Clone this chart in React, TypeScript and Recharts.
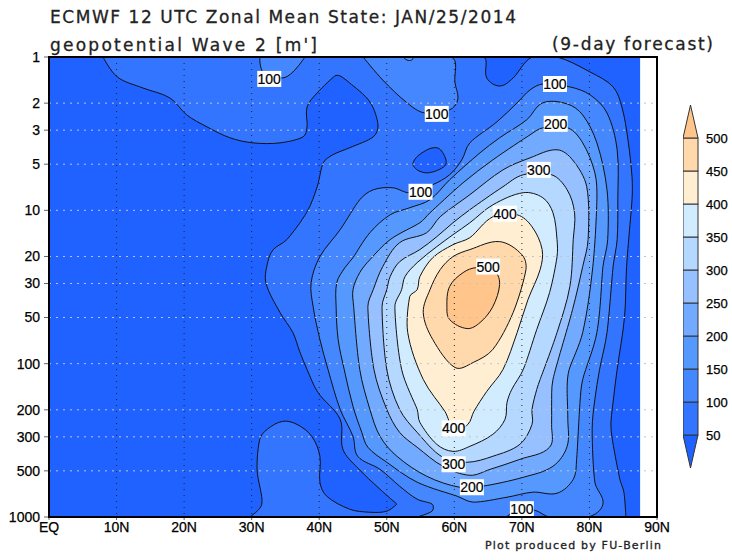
import { Bar, BarChart, CartesianGrid, ReferenceArea, Scatter, ScatterChart, XAxis, YAxis } from "recharts";

// contours are [latitude, log10(pressure in hPa)]
type Pt = [number, number];

const latTicks = [0, 10, 20, 30, 40, 50, 60, 70, 80, 90];
const pressureTicks = [1, 2, 3, 5, 10, 20, 30, 50, 100, 200, 300, 500, 1000];
const innerPressures = [2, 3, 5, 10, 20, 30, 50, 100, 200, 300, 500];

const background: Pt[] = [[0, 0], [87.5, 0], [87.5, 3], [0, 3]];

const contour50: Pt[] = [
  [8.0, 0], [10.1, 0.13], [13.9, 0.202], [17.9, 0.267], [20.4, 0.378], [23.4, 0.456], [26.8, 0.527], [30.2, 0.56],
  [34.2, 0.56], [37.6, 0.521], [38.2, 0.456], [38.2, 0.326], [39.7, 0.234], [42.3, 0.124], [43.1, 0.124], [44.5, 0.169],
  [47.5, 0.293], [48.7, 0.443], [48.0, 0.521], [44.5, 0.592], [42.0, 0.638], [40.6, 0.69], [39.7, 0.846], [38.2, 1.009],
  [35.2, 1.191], [33.2, 1.256], [32.4, 1.335], [32.1, 1.471], [34.2, 1.667], [36.1, 1.797], [37.1, 1.92], [38.2, 2.038],
  [39.8, 2.187], [43.1, 2.363], [43.5, 2.558], [45.6, 2.676], [49.0, 2.819], [51.5, 2.916], [50.0, 2.962], [47.5, 2.969],
  [44.5, 2.949], [41.1, 2.864], [40.1, 2.773], [40.1, 2.604], [38.9, 2.474], [36.7, 2.396], [34.6, 2.376], [32.3, 2.428],
  [31.2, 2.493], [30.8, 2.689], [31.5, 2.916], [29.7, 3], [85.4, 3], [85.1, 2.838], [84.5, 2.754], [83.2, 2.428],
  [83.5, 2.252], [84.1, 2.038], [85.2, 1.693], [85.5, 1.367], [86.3, 0.931], [86.3, 0.781], [85.7, 0.54], [84.8, 0.326],
  [83.5, 0.195], [80.1, 0.098], [75.2, 0], [71.5, 0], [68.7, 0.137], [66.7, 0.189], [64.8, 0.137], [64.2, 0],
];
const lowBlob: Pt[] = [[53.9, 0.69], [55.2, 0.625], [57.4, 0.592], [58.6, 0.65], [58.6, 0.71], [56.2, 0.755], [54.5, 0.736]];

const contour100: Pt[] = [
  [54.5, 3], [56.7, 2.962], [56.7, 2.916], [54.5, 2.884], [51.9, 2.799], [49.0, 2.689], [45.7, 2.604], [45.0, 2.474],
  [43.1, 2.298], [41.3, 2.038], [40.1, 1.842], [39.1, 1.628], [38.8, 1.471], [40.1, 1.302], [43.1, 1.126], [46.0, 0.931],
  [48.0, 0.866], [50.9, 0.853], [53.4, 0.885], [56.8, 0.833], [59.3, 0.768], [61.1, 0.671], [62.3, 0.56], [66.3, 0.423],
  [69.3, 0.299], [71.2, 0.215], [73.1, 0.176], [77.1, 0.195], [80.1, 0.247], [82.6, 0.365], [84.1, 0.605], [84.2, 0.931],
  [84.1, 1.191], [83.5, 1.367], [82.6, 1.797], [81.5, 2.038], [80.8, 2.233], [80.4, 2.428], [80.8, 2.773], [82.0, 2.916],
  [79.8, 3], [74.1, 3], [71.9, 2.956], [69.0, 2.956], [67.5, 3],
];
const topPatchA: Pt[] = [[31.2, 0], [31.7, 0.098], [34.5, 0.137], [36.1, 0.098], [37.9, 0]];
const topPatchB: Pt[] = [[46.5, 0], [49.4, 0.15], [53.0, 0.299], [55.6, 0.365], [59.3, 0.345], [60.5, 0.28], [60.1, 0.169], [59.5, 0]];
const topSliver: Pt[] = [[52.4, 0], [53, 0.02], [53.7, 0.02], [53.9, 0]];

const contour150: Pt[] = [
  [60.4, 2.864], [54.5, 2.773], [50.0, 2.643], [47.2, 2.545], [46.3, 2.448], [45.0, 2.279], [43.7, 2.038], [42.8, 1.842],
  [42.5, 1.628], [42.6, 1.471], [43.8, 1.374], [45.0, 1.309], [47.5, 1.146], [50.5, 1.029], [53.4, 0.983], [56.4, 0.931],
  [59.3, 0.801], [63.8, 0.625], [66.7, 0.527], [70.7, 0.41], [73.1, 0.299], [76.7, 0.306], [79.0, 0.378], [81.1, 0.56],
  [82.6, 0.866], [82.7, 1.191], [82.0, 1.367], [81.1, 1.797], [79.0, 2.103], [78.6, 2.252], [78.1, 2.624], [77.6, 2.754],
  [75.2, 2.845], [71.6, 2.838], [67.8, 2.871], [62.8, 2.903],
];
const contour200: Pt[] = [
  [60.8, 2.806], [55.9, 2.734], [51.5, 2.604], [49.0, 2.474], [47.5, 2.298], [46.0, 2.038], [45.1, 1.628], [45.0, 1.517],
  [46.0, 1.406], [47.5, 1.322], [50.5, 1.191], [54.9, 1.081], [56.4, 1.016], [61.3, 0.82], [65.7, 0.671], [71.2, 0.508],
  [73.1, 0.462], [76.8, 0.462], [79.0, 0.56], [80.8, 0.755], [81.1, 0.931], [80.5, 1.367], [79.0, 1.797], [77.0, 2.038],
  [76.7, 2.148], [76.8, 2.363], [76.7, 2.539], [74.6, 2.669], [70.2, 2.741], [64.2, 2.799],
];
const contour250: Pt[] = [
  [62.3, 2.728], [58.3, 2.669], [54.5, 2.545], [51.9, 2.448], [50.0, 2.298], [48.1, 2.038], [47.2, 1.628], [48.0, 1.517],
  [49.4, 1.367], [51.9, 1.211], [55.9, 1.146], [57.9, 1.042], [62.3, 0.898], [67.2, 0.736], [71.2, 0.658], [75.2, 0.605],
  [77.5, 0.671], [79.6, 0.846], [79.8, 1.191], [79.0, 1.367], [77.5, 1.647], [74.6, 2.103], [74.4, 2.279], [74.4, 2.396],
  [74.1, 2.545], [69.7, 2.624], [65.3, 2.689],
];
const contour300: Pt[] = [
  [58.3, 2.611], [54.5, 2.448], [51.9, 2.298], [50.0, 2.038], [49.3, 1.628], [50.0, 1.517], [50.5, 1.432], [51.9, 1.335],
  [54.9, 1.256], [57.4, 1.172], [59.8, 1.081], [62.3, 0.996], [67.2, 0.846], [70.2, 0.768], [74.4, 0.768], [76.7, 0.866],
  [77.8, 1.016], [77.6, 1.191], [77.1, 1.497], [75.2, 1.797], [72.7, 2.103], [72.2, 2.168], [71.5, 2.298], [71.5, 2.396],
  [69.7, 2.526], [65.7, 2.604], [61.9, 2.643],
];
const contour350: Pt[] = [
  [59.8, 2.572], [57.4, 2.526], [54.9, 2.383], [54.5, 2.298], [52.2, 2.038], [51.2, 1.628], [52.2, 1.517], [52.7, 1.432],
  [54.5, 1.341], [57.4, 1.237], [59.8, 1.159], [62.3, 1.081], [65.7, 0.964], [70.2, 0.885], [73.1, 0.918], [74.6, 1.016],
  [75.2, 1.191], [75.2, 1.302], [74.1, 1.536], [72.2, 1.777], [70.2, 2.038], [68.5, 2.168], [67.8, 2.252], [67.5, 2.363],
  [65.7, 2.461], [62.3, 2.539],
];
const contour400: Pt[] = [
  [60.1, 2.428], [58.6, 2.311], [55.4, 2.103], [53.1, 1.797], [53.4, 1.562], [54.5, 1.517], [54.9, 1.432], [56.8, 1.309],
  [59.8, 1.224], [62.3, 1.178], [65.7, 1.042], [69.3, 1.029], [71.5, 1.107], [73.0, 1.256], [72.7, 1.387], [70.9, 1.582],
  [69.3, 1.797], [67.2, 2.038], [64.8, 2.181], [62.9, 2.311], [62.0, 2.396],
];
const contour450: Pt[] = [
  [55.4, 1.667], [56.4, 1.517], [57.9, 1.387], [59.8, 1.302], [62.3, 1.256], [66.7, 1.204], [70.0, 1.289], [70.6, 1.387],
  [68.7, 1.667], [65.7, 1.907], [62.8, 1.992], [60.1, 2.025], [56.8, 1.842],
];
const contour500: Pt[] = [
  [58.9, 1.628], [59.3, 1.497], [61.3, 1.406], [63.3, 1.374], [66.0, 1.4], [66.7, 1.484], [65.7, 1.628], [63.8, 1.732],
  [61.9, 1.771], [59.3, 1.712],
];

const C = {
  lt50: "#1f62ff",
  c50: "#3375ff",
  c100: "#4587ff",
  c150: "#5599ff",
  c200: "#72aaff",
  c250: "#96c0ff",
  c300: "#b4d8ff",
  c350: "#d2ecff",
  c400: "#ffeed2",
  c450: "#ffd9ac",
  c500: "#ffc58a",
};

// painted in this order, each level over the previous one
const layers: { pts: Pt[]; fill: string }[] = [
  { pts: contour50, fill: C.c50 },
  { pts: lowBlob, fill: C.lt50 },
  { pts: contour100, fill: C.c100 },
  { pts: topPatchA, fill: C.c100 },
  { pts: topPatchB, fill: C.c100 },
  { pts: topSliver, fill: C.c150 },
  { pts: contour150, fill: C.c150 },
  { pts: contour200, fill: C.c200 },
  { pts: contour250, fill: C.c250 },
  { pts: contour300, fill: C.c300 },
  { pts: contour350, fill: C.c350 },
  { pts: contour400, fill: C.c400 },
  { pts: contour450, fill: C.c450 },
  { pts: contour500, fill: C.c500 },
];

const contourLabels = [
  { lat: 32.6, logP: 0.143, text: "100" },
  { lat: 57.4, logP: 0.371, text: "100" },
  { lat: 55.0, logP: 0.879, text: "100" },
  { lat: 74.9, logP: 0.176, text: "100" },
  { lat: 75.0, logP: 0.436, text: "200" },
  { lat: 72.5, logP: 0.736, text: "300" },
  { lat: 67.5, logP: 1.022, text: "400" },
  { lat: 65.0, logP: 1.367, text: "500" },
  { lat: 59.9, logP: 2.422, text: "400" },
  { lat: 59.9, logP: 2.656, text: "300" },
  { lat: 62.6, logP: 2.806, text: "200" },
  { lat: 70.0, logP: 2.949, text: "100" },
];

const legendColors = [C.lt50, C.c50, C.c100, C.c150, C.c200, C.c250, C.c300, C.c350, C.c400, C.c450, C.c500];
const legendTicks = [50, 100, 150, 200, 250, 300, 350, 400, 450, 500];
const legendRow: Record<string, number | string> = { name: "levels" };
legendColors.forEach((_, i) => {
  legendRow["b" + i] = 50;
});

const toRows = (pts: Pt[]) => pts.map(([lat, logP]) => ({ lat, p: Math.pow(10, logP) }));
const latLabel = (v: number) => (v === 0 ? "EQ" : v + "N");
const FONT = "'Liberation Sans', Arial, sans-serif";
const tickStyle = { fontFamily: FONT, fontSize: 14, fill: "#000", stroke: "#000", strokeWidth: 0.25 };

// closed smooth curve for the contours, keeps sharp turns as corners
function smoothClosed(context: any) {
  let pts: [number, number][] = [];
  return {
    areaStart() {},
    areaEnd() {},
    lineStart() {
      pts = [];
    },
    point(x: number, y: number) {
      pts.push([+x, +y]);
    },
    lineEnd() {
      const n = pts.length;
      const handles = pts.map((p, i) => {
        const a = pts[(i + n - 1) % n];
        const b = pts[(i + 1) % n];
        const inLen = Math.hypot(p[0] - a[0], p[1] - a[1]) || 1;
        const outLen = Math.hypot(b[0] - p[0], b[1] - p[1]) || 1;
        const dot = ((p[0] - a[0]) * (b[0] - p[0]) + (p[1] - a[1]) * (b[1] - p[1])) / (inLen * outLen);
        if (dot < 0.1) return { dx: 0, dy: 0, inLen, outLen };
        const tx = b[0] - a[0];
        const ty = b[1] - a[1];
        const tl = Math.hypot(tx, ty) || 1;
        return { dx: tx / tl, dy: ty / tl, inLen, outLen };
      });
      context.moveTo(pts[0][0], pts[0][1]);
      for (let i = 0; i < n; i++) {
        const j = (i + 1) % n;
        const h0 = handles[i];
        const h1 = handles[j];
        const l0 = Math.min(h0.outLen, h0.inLen * 1.5) / 3;
        const l1 = Math.min(h1.inLen, h1.outLen * 1.5) / 3;
        context.bezierCurveTo(
          pts[i][0] + h0.dx * l0,
          pts[i][1] + h0.dy * l0,
          pts[j][0] - h1.dx * l1,
          pts[j][1] - h1.dy * l1,
          pts[j][0],
          pts[j][1],
        );
      }
      context.closePath();
    },
  };
}

const NoDot = () => null;

function LabelBox(props: any) {
  const { cx, cy, payload } = props;
  return (
    <g>
      <rect x={cx - 12} y={cy - 8} width={24} height={16} fill="#fff" />
      <text x={cx} y={cy + 5} textAnchor="middle" fontFamily={FONT} fontSize={14} fill="#000" stroke="#000" strokeWidth={0.2}>
        {payload.text}
      </text>
    </g>
  );
}

function LegendShape(props: any) {
  const { x, y, width, height, index2, fill } = props;
  if (index2 === 0) {
    return <path d={`M${x},${y} L${x + width},${y} L${x + width / 2},${y + height} Z`} fill={fill} stroke="#333" />;
  }
  if (index2 === legendColors.length - 1) {
    return <path d={`M${x},${y + height} L${x + width},${y + height} L${x + width / 2},${y} Z`} fill={fill} stroke="#333" />;
  }
  return <rect x={x} y={y} width={width} height={height} fill={fill} stroke="#333" />;
}

function Titles() {
  return (
    <svg width={732} height={560} style={{ position: "absolute", left: 0, top: 0 }}>
      <g fontFamily="'DejaVu Sans', sans-serif" fill="#222" stroke="#222" strokeWidth={0.3}>
        <text x={50} y={23} fontSize={17} textLength={466} lengthAdjust="spacing">
          ECMWF 12 UTC Zonal Mean State: JAN/25/2014
        </text>
        <text x={50} y={51} fontSize={17} textLength={267} lengthAdjust="spacing">
          geopotential Wave 2 [m']
        </text>
        <text x={552} y={50} fontSize={17} textLength={161} lengthAdjust="spacing">
          (9-day forecast)
        </text>
        <text x={485} y={549} fontSize={11} textLength={176} lengthAdjust="spacing">
          Plot produced by FU-Berlin
        </text>
      </g>
    </svg>
  );
}

export default function App() {
  return (
    <div style={{ position: "absolute", left: 0, top: 0, width: 732, height: 560, background: "#fff" }}>
      <Titles />
      <div style={{ position: "absolute", left: 0, top: 0 }}>
        <ScatterChart width={732} height={560} margin={{ top: 57, right: 75, bottom: 0, left: 0 }}>
          <XAxis
            type="number"
            dataKey="lat"
            domain={[0, 90]}
            ticks={latTicks}
            interval={0}
            tickFormatter={latLabel}
            height={43}
            tickSize={3}
            tick={tickStyle}
            axisLine={false}
            allowDataOverflow
          />
          <YAxis
            type="number"
            dataKey="p"
            scale="log"
            domain={[1, 1000]}
            ticks={pressureTicks}
            interval={0}
            reversed
            width={49}
            tickSize={5}
            tickMargin={4}
            tick={tickStyle}
            axisLine={false}
            allowDataOverflow
          />
          <Scatter data={toRows(background)} shape={NoDot} line={{ fill: C.lt50, stroke: "none" }} lineJointType="linearClosed" isAnimationActive={false} />
          {layers.map((layer, i) => (
            <Scatter
              key={i}
              data={toRows(layer.pts)}
              shape={NoDot}
              line={{ fill: layer.fill, stroke: "#111", strokeWidth: 1 }}
              lineJointType={smoothClosed as any}
              isAnimationActive={false}
            />
          ))}
          <CartesianGrid zIndex={700} vertical={false} horizontalValues={innerPressures} stroke="#c4c4c4" strokeDasharray="2 5" />
          <CartesianGrid zIndex={700} horizontal={false} verticalValues={latTicks.slice(1, -1)} stroke="#222" strokeDasharray="1 5" />
          <Scatter
            zIndex={800}
            data={contourLabels.map((l) => ({ lat: l.lat, p: Math.pow(10, l.logP), text: l.text }))}
            shape={LabelBox}
            isAnimationActive={false}
          />
          <ReferenceArea zIndex={900} x1={0} x2={90} y1={1} y2={1000} fill="none" stroke="#000" strokeWidth={2} />
        </ScatterChart>
      </div>
      <div style={{ position: "absolute", left: 683, top: 105 }}>
        <BarChart width={45} height={363} data={[legendRow]} margin={{ top: 0, right: 0, bottom: 0, left: 0 }} barCategoryGap={0}>
          <XAxis dataKey="name" hide />
          <YAxis
            orientation="right"
            type="number"
            domain={[0, 550]}
            ticks={legendTicks}
            interval={0}
            width={30}
            tickLine={false}
            axisLine={false}
            tickMargin={2}
            tick={{ fontFamily: FONT, fontSize: 13, fill: "#000", stroke: "#000", strokeWidth: 0.25 }}
          />
          {legendColors.map((color, i) => (
            <Bar
              key={i}
              dataKey={"b" + i}
              stackId="legend"
              fill={color}
              isAnimationActive={false}
              shape={(p: any) => <LegendShape {...p} index2={i} />}
            />
          ))}
        </BarChart>
      </div>
    </div>
  );
}
